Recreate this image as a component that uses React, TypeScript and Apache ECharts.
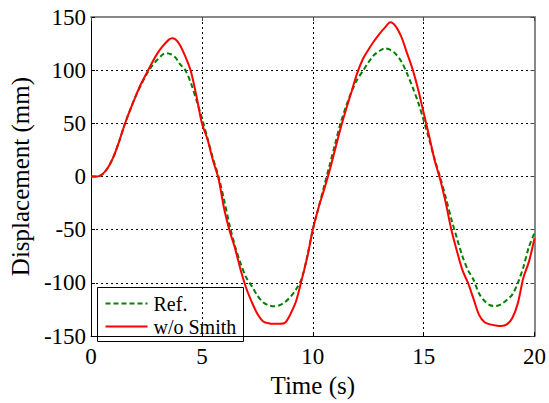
import React, { useEffect, useRef } from "react";
import * as echarts from "echarts";

const timeRef = [0, 0.25, 0.5, 0.75, 1.0, 1.25, 1.5, 1.75, 2.0, 2.25, 2.5, 2.75, 3.0, 3.25, 3.4, 3.6, 3.8, 4.0, 4.25, 4.5, 4.75, 5.0, 5.25, 5.5, 5.75, 6.0, 6.25, 6.5, 6.75, 7.0, 7.25, 7.5, 7.75, 8.0, 8.25, 8.5, 8.75, 9.0, 9.25, 9.5, 9.75, 10.0, 10.25, 10.5, 10.75, 11.0, 11.25, 11.5, 11.75, 12.0, 12.25, 12.5, 12.75, 13.0, 13.25, 13.5, 13.75, 14.0, 14.25, 14.5, 14.75, 15.0, 15.25, 15.5, 15.75, 16.0, 16.25, 16.5, 16.75, 17.0, 17.25, 17.5, 17.75, 18.0, 18.25, 18.5, 18.75, 19.0, 19.25, 19.5, 19.75, 20.0];
const refValues = [0, 0, 2, 8, 18, 32, 48, 62, 75, 86, 96, 104, 110, 115, 116, 115, 112, 106, 100, 88, 72, 55, 36, 17, 0, -22, -46, -66, -82, -95, -103, -112, -118, -121, -122, -121, -118, -113, -106, -96, -75, -50, -30, -10, 10, 30, 50, 66, 80, 91, 99, 107, 114, 118, 120.5, 119, 115, 108, 97, 84, 70, 53, 35, 16, -1, -20, -40, -58, -75, -88, -97, -110, -117, -121, -121.7, -120, -116, -111, -100, -85, -66, -53];

const timeSmith = [0, 0.25, 0.5, 0.75, 1.0, 1.25, 1.5, 1.75, 2.0, 2.25, 2.5, 2.75, 3.0, 3.25, 3.5, 3.65, 3.8, 4.0, 4.25, 4.5, 4.75, 5.0, 5.25, 5.5, 5.75, 6.0, 6.25, 6.5, 6.75, 7.0, 7.25, 7.5, 7.75, 8.0, 8.25, 8.5, 8.75, 9.0, 9.25, 9.5, 9.75, 10.0, 10.25, 10.5, 10.75, 11.0, 11.25, 11.5, 11.75, 12.0, 12.25, 12.5, 12.75, 13.0, 13.25, 13.5, 13.75, 14.0, 14.25, 14.5, 14.75, 15.0, 15.25, 15.5, 15.75, 16.0, 16.25, 16.5, 16.75, 17.0, 17.25, 17.5, 17.75, 18.0, 18.25, 18.5, 18.75, 19.0, 19.25, 19.5, 19.75, 20.0];
const smithValues = [0, 0, 2, 8, 18, 32, 48, 62, 75, 87, 97, 107, 116, 123, 128.5, 130, 129, 124, 113, 99, 76, 50, 35, 15, -2, -30, -51, -68, -88, -105, -118, -129, -136, -138, -138.5, -138.5, -137.5, -129, -117, -97, -76, -50, -30, -13, 5, 25, 45, 63, 80, 97, 110, 119, 127, 134, 140, 145, 141, 131, 116, 101, 82, 60, 38, 15, -3, -25, -50, -70, -88, -100, -115, -130, -137, -139, -140, -140.5, -139, -133, -119, -95, -80, -58];

const seriesNames = ["Ref.", "w/o Smith"];
const xTicks = { min: 0, max: 20, interval: 5 };
const yTicks = { min: -150, max: 150, interval: 50 };

const FONT = "Times New Roman, Liberation Serif, serif";
const GREEN = "#008000";
const RED = "#ff0000";

export default function App() {
  const ref = useRef<HTMLDivElement>(null);
  useEffect(() => {
    if (!ref.current) return;
    const chart = echarts.init(ref.current, null, { renderer: "svg" });
    const refData = timeRef.map((t, i) => [t, refValues[i]]);
    const smithData = timeSmith.map((t, i) => [t, smithValues[i]]);
    const grid = { left: 91, right: 12, top: 17, bottom: 57 };
    chart.setOption({
      animation: false,
      backgroundColor: "#fff",
      textStyle: { fontFamily: FONT },
      grid,
      graphic: [
        {
          type: "group",
          left: 97,
          top: 287,
          z: 100,
          children: [
            { type: "rect", shape: { x: 0, y: 0, width: 146, height: 54 }, style: { fill: "#fff", stroke: "#000", lineWidth: 1 } },
            { type: "line", shape: { x1: 8, y1: 16, x2: 50, y2: 16 }, style: { stroke: GREEN, lineWidth: 2, lineDash: [5, 3] } },
            { type: "text", x: 56, y: 16, style: { text: seriesNames[0], font: "20px " + FONT, fill: "#000", verticalAlign: "middle" } },
            { type: "line", shape: { x1: 8, y1: 39, x2: 50, y2: 39 }, style: { stroke: RED, lineWidth: 2 } },
            { type: "text", x: 56, y: 39, style: { text: seriesNames[1], font: "20px " + FONT, fill: "#000", verticalAlign: "middle" } },
          ],
        },
      ],
      xAxis: [
        {
          type: "value",
          min: xTicks.min,
          max: xTicks.max,
          interval: xTicks.interval,
          name: "Time (s)",
          nameLocation: "middle",
          nameGap: 32,
          nameTextStyle: { fontFamily: FONT, fontSize: 25, color: "#000" },
          axisLine: { onZero: false, lineStyle: { color: "#000", width: 1 } },
          axisTick: { inside: true, length: 4, lineStyle: { color: "#000" } },
          axisLabel: { fontFamily: FONT, fontSize: 23, color: "#000", margin: 9 },
          splitLine: { show: true, lineStyle: { color: "#000", type: [2, 3], width: 1 } },
        },
        {
          type: "value",
          position: "top",
          min: xTicks.min,
          max: xTicks.max,
          interval: xTicks.interval,
          axisLine: { onZero: false, lineStyle: { color: "#888", width: 2 } },
          axisTick: { inside: true, length: 4, lineStyle: { color: "#444" } },
          axisLabel: { show: false },
          splitLine: { show: false },
        },
      ],
      yAxis: [
        {
          type: "value",
          min: yTicks.min,
          max: yTicks.max,
          interval: yTicks.interval,
          name: "Displacement (mm)",
          nameLocation: "middle",
          nameGap: 57,
          nameTextStyle: { fontFamily: FONT, fontSize: 25, color: "#000" },
          axisLine: { show: true, onZero: false, lineStyle: { color: "#000", width: 1 } },
          axisTick: { show: true, inside: true, length: 4, lineStyle: { color: "#000" } },
          axisLabel: { fontFamily: FONT, fontSize: 23, color: "#000", margin: 5 },
          splitLine: { show: true, lineStyle: { color: "#000", type: [2, 3], width: 1 } },
        },
        {
          type: "value",
          position: "right",
          min: yTicks.min,
          max: yTicks.max,
          interval: yTicks.interval,
          axisLine: { show: true, onZero: false, lineStyle: { color: "#888", width: 2 } },
          axisTick: { show: true, inside: true, length: 4, lineStyle: { color: "#444" } },
          axisLabel: { show: false },
          splitLine: { show: false },
        },
      ],
      series: [
        {
          name: seriesNames[0],
          type: "line",
          data: refData,
          symbol: "none",
          smooth: 0.3,
          lineStyle: { color: GREEN, width: 2, type: [5, 3] },
          itemStyle: { color: GREEN },
          z: 3,
        },
        {
          name: seriesNames[1],
          type: "line",
          data: smithData,
          symbol: "none",
          smooth: 0.3,
          lineStyle: { color: RED, width: 2 },
          itemStyle: { color: RED },
          z: 4,
        },
      ],
    });
    return () => chart.dispose();
  }, []);
  return <div ref={ref} style={{ width: 549, height: 403, position: "absolute", left: 0, top: 0 }} />;
}
